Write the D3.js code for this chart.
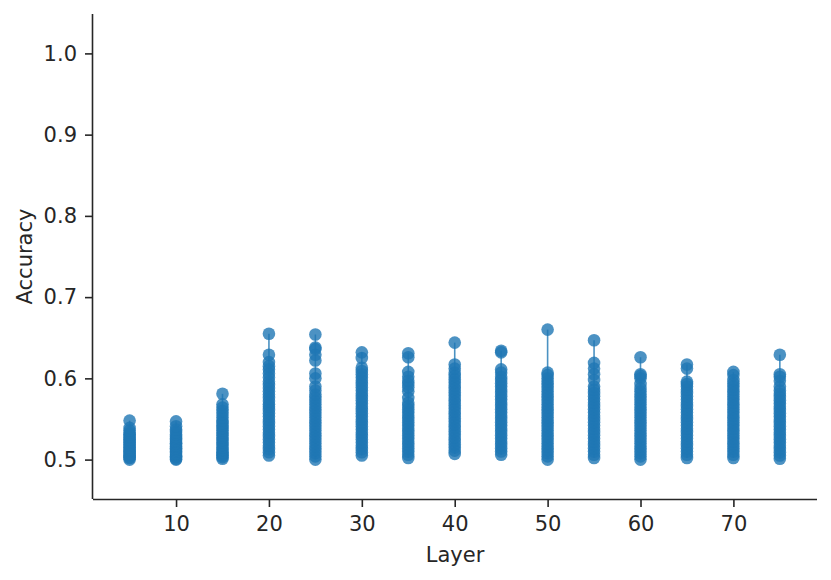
<!DOCTYPE html>
<html><head><meta charset="utf-8">
<script src="https://cdn.jsdelivr.net/npm/d3@7"></script>
<style>body{margin:0;background:#fff}svg{display:block}text{font-family:"DejaVu Sans",sans-serif;fill:#262626}</style>
</head><body><svg id="c" width="831" height="580"></svg>
<script>
const layers = [5,10,15,20,25,30,35,40,45,50,55,60,65,70,75];
const acc5  = [0.500,0.502,0.503,0.505,0.506,0.508,0.510,0.511,0.513,0.515,0.517,0.519,0.521,0.523,0.525,0.527,0.529,0.531,0.533,0.536,0.539,0.548];
const acc10 = [0.500,0.501,0.503,0.504,0.506,0.508,0.510,0.512,0.514,0.516,0.518,0.520,0.522,0.524,0.526,0.528,0.531,0.534,0.537,0.541,0.547];
const acc15 = [0.501,0.503,0.505,0.507,0.509,0.512,0.515,0.518,0.521,0.524,0.527,0.530,0.533,0.536,0.539,0.542,0.545,0.548,0.552,0.556,0.560,0.564,0.568,0.581];
const acc20 = [0.505,0.509,0.513,0.517,0.521,0.525,0.529,0.533,0.537,0.541,0.545,0.549,0.553,0.557,0.561,0.565,0.568,0.572,0.576,0.580,0.584,0.588,0.592,0.596,0.601,0.606,0.611,0.615,0.620,0.629,0.655];
const acc25 = [0.500,0.504,0.508,0.512,0.516,0.520,0.524,0.528,0.532,0.536,0.540,0.544,0.548,0.552,0.556,0.560,0.564,0.568,0.572,0.576,0.580,0.585,0.590,0.600,0.606,0.622,0.629,0.636,0.638,0.654];
const acc30 = [0.505,0.509,0.513,0.517,0.521,0.525,0.529,0.533,0.537,0.541,0.545,0.549,0.553,0.557,0.561,0.565,0.569,0.573,0.577,0.581,0.585,0.589,0.593,0.597,0.601,0.605,0.609,0.613,0.625,0.632];
const acc35 = [0.502,0.506,0.510,0.514,0.518,0.522,0.526,0.530,0.534,0.538,0.542,0.546,0.550,0.554,0.558,0.562,0.566,0.570,0.576,0.584,0.589,0.593,0.597,0.602,0.608,0.626,0.631];
const acc40 = [0.507,0.511,0.515,0.519,0.523,0.527,0.531,0.535,0.539,0.543,0.547,0.551,0.555,0.559,0.563,0.567,0.571,0.575,0.579,0.583,0.587,0.591,0.595,0.599,0.603,0.607,0.612,0.617,0.644];
const acc45 = [0.506,0.510,0.514,0.518,0.522,0.526,0.530,0.534,0.538,0.542,0.546,0.550,0.554,0.558,0.562,0.566,0.570,0.574,0.578,0.582,0.586,0.590,0.594,0.598,0.602,0.607,0.611,0.632,0.634];
const acc50 = [0.500,0.504,0.508,0.512,0.516,0.520,0.524,0.528,0.532,0.536,0.540,0.544,0.548,0.552,0.556,0.560,0.564,0.568,0.572,0.576,0.580,0.584,0.588,0.592,0.596,0.600,0.604,0.607,0.660];
const acc55 = [0.502,0.506,0.510,0.514,0.518,0.522,0.526,0.530,0.534,0.538,0.542,0.546,0.550,0.554,0.558,0.562,0.566,0.570,0.574,0.578,0.582,0.586,0.590,0.598,0.605,0.612,0.619,0.647];
const acc60 = [0.500,0.504,0.508,0.512,0.516,0.520,0.524,0.528,0.532,0.536,0.540,0.544,0.548,0.552,0.556,0.560,0.564,0.568,0.572,0.576,0.580,0.584,0.588,0.593,0.600,0.603,0.605,0.626];
const acc65 = [0.502,0.506,0.510,0.514,0.518,0.522,0.526,0.530,0.534,0.538,0.542,0.546,0.550,0.554,0.558,0.562,0.566,0.570,0.574,0.578,0.582,0.586,0.590,0.593,0.596,0.612,0.617];
const acc70 = [0.502,0.506,0.510,0.514,0.518,0.522,0.526,0.530,0.534,0.538,0.542,0.546,0.550,0.554,0.558,0.562,0.566,0.570,0.574,0.578,0.582,0.586,0.590,0.594,0.598,0.604,0.608];
const acc75 = [0.501,0.505,0.509,0.513,0.517,0.521,0.525,0.529,0.533,0.537,0.541,0.545,0.549,0.553,0.557,0.561,0.565,0.569,0.573,0.577,0.581,0.585,0.590,0.597,0.602,0.605,0.629];
const accuracies = [acc5,acc10,acc15,acc20,acc25,acc30,acc35,acc40,acc45,acc50,acc55,acc60,acc65,acc70,acc75];
const xTicks = [10,20,30,40,50,60,70];
const yTicks = [0.5,0.6,0.7,0.8,0.9,1.0];

const svg = d3.select("#c");
const L=93, R=817, T=14, B=499;
const x = d3.scaleLinear().domain([1.06,79]).range([L,R]);
const y = d3.scaleLinear().domain([0.4515,1.0485]).range([B,T]);
const color = "#1f77b4";
const FS = 21;

const g = svg.append("g");
layers.forEach((l,i)=>{
  const vals = accuracies[i];
  g.append("line").attr("x1",x(l)).attr("x2",x(l))
    .attr("y1",y(d3.min(vals))).attr("y2",y(d3.max(vals)))
    .attr("stroke",color).attr("stroke-width",1.6).attr("opacity",0.8);
});
layers.forEach((l,i)=>{
  g.selectAll(null).data(accuracies[i]).enter().append("circle")
    .attr("cx",x(l)).attr("cy",d=>y(d)).attr("r",6.3)
    .attr("fill",color).attr("fill-opacity",0.8);
});

const xa = svg.append("g").attr("transform",`translate(0,${B})`)
  .call(d3.axisBottom(x).tickValues(xTicks).tickFormat(d3.format("d")).tickSize(8).tickPadding(9));
const ya = svg.append("g").attr("transform",`translate(${L},0)`)
  .call(d3.axisLeft(y).tickValues(yTicks).tickFormat(d3.format(".1f")).tickSize(8).tickPadding(8));
[xa,ya].forEach(a=>{
  a.attr("font-size",FS).attr("font-family",null);
  a.select(".domain").attr("stroke","#262626").attr("stroke-width",1.6);
  a.selectAll(".tick line").attr("stroke","#262626").attr("stroke-width",1.6);
  a.selectAll(".tick text").attr("font-size",FS).style("fill","#262626");
});
xa.select(".domain").attr("d",`M${L},0.5H${R}`);
ya.select(".domain").attr("d",`M-0.5,${T}V${B}`);

svg.append("text").attr("x",(L+R)/2).attr("y",562).attr("text-anchor","middle").attr("font-size",FS).text("Layer");
svg.append("text").attr("transform",`translate(32,${(T+B)/2}) rotate(-90)`).attr("text-anchor","middle").attr("font-size",FS).text("Accuracy");
</script></body></html>
